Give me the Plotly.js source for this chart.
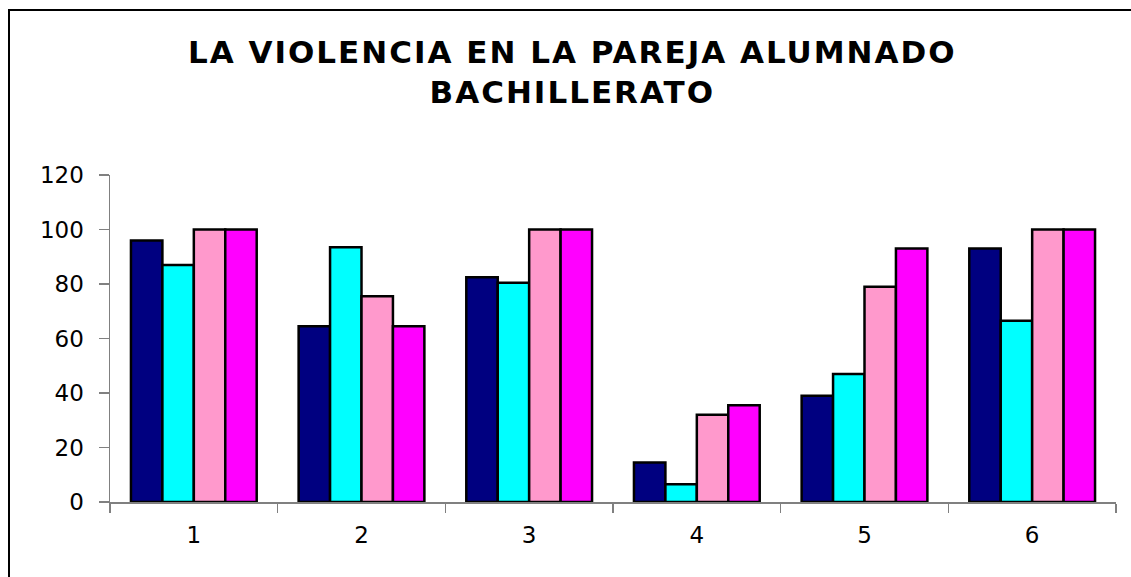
<!DOCTYPE html>
<html>
<head>
<meta charset="utf-8">
<script src="https://cdn.plot.ly/plotly-3.0.1.min.js"></script>
<style>
  html, body { margin: 0; padding: 0; overflow: hidden; background: #fff; }
  #graph { width: 1131px; height: 577px; }
  #frame {
    position: absolute; left: 8px; top: 9px; width: 1200px; height: 700px;
    border: 2.5px solid #000; pointer-events: none;
  }
  .gtitle { letter-spacing: 2px; }
</style>
</head>
<body>
<div id="graph"></div>
<div id="frame"></div>
<script>
const categories = ["1", "2", "3", "4", "5", "6"];

const serie1 = [96, 64.5, 82.5, 14.5, 39, 93];
const serie2 = [87, 93.5, 80.5, 6.5, 47, 66.5];
const serie3 = [100, 75.5, 100, 32, 79, 100];
const serie4 = [100, 64.5, 100, 35.5, 93, 100];

const seriesNames = ["Serie1", "Serie2", "Serie3", "Serie4"];
const colors = ["#000080", "#00FFFF", "#FF99CC", "#FF00FF"];

const yTicks = [0, 20, 40, 60, 80, 100, 120];

function initChart() {
  const values = [serie1, serie2, serie3, serie4];
  const data = values.map((v, i) => ({
    x: categories,
    y: v,
    type: "bar",
    name: seriesNames[i],
    marker: { color: colors[i], line: { color: "#000", width: 2.5 } },
    hoverinfo: "x+y"
  }));

  const tickFont = { family: "DejaVu Sans", size: 23, color: "#000" };
  const layout = {
    title: {
      text: "LA VIOLENCIA EN LA PAREJA ALUMNADO<br>BACHILLERATO",
      font: { family: "DejaVu Sans", size: 31, color: "#000", weight: "bold" },
      xref: "container",
      x: 0.506,
      xanchor: "center",
      yref: "container",
      y: 0.891,
      yanchor: "middle"
    },
    xaxis: {
      type: "category",
      showline: true,
      linecolor: "#808080",
      linewidth: 1.5,
      ticks: "outside",
      tickson: "boundaries",
      ticklen: 9,
      tickcolor: "#808080",
      tickwidth: 1.5,
      ticklabelstandoff: 12,
      tickfont: tickFont,
      showgrid: false,
      zeroline: false
    },
    yaxis: {
      range: [0, 120],
      tickvals: yTicks,
      showline: true,
      linecolor: "#808080",
      linewidth: 1.5,
      ticks: "outside",
      ticklen: 10,
      tickcolor: "#808080",
      tickwidth: 1.5,
      ticklabelstandoff: 10,
      tickfont: tickFont,
      showgrid: false,
      zeroline: false
    },
    barmode: "group",
    bargap: 0.25,
    bargroupgap: 0,
    showlegend: false,
    margin: { l: 110, r: 15, t: 175, b: 75 },
    paper_bgcolor: "#fff",
    plot_bgcolor: "#fff",
    width: 1131,
    height: 577
  };

  Plotly.newPlot("graph", data, layout, { displayModeBar: false, staticPlot: true });
}

window.addEventListener("load", initChart);
</script>
</body>
</html>
